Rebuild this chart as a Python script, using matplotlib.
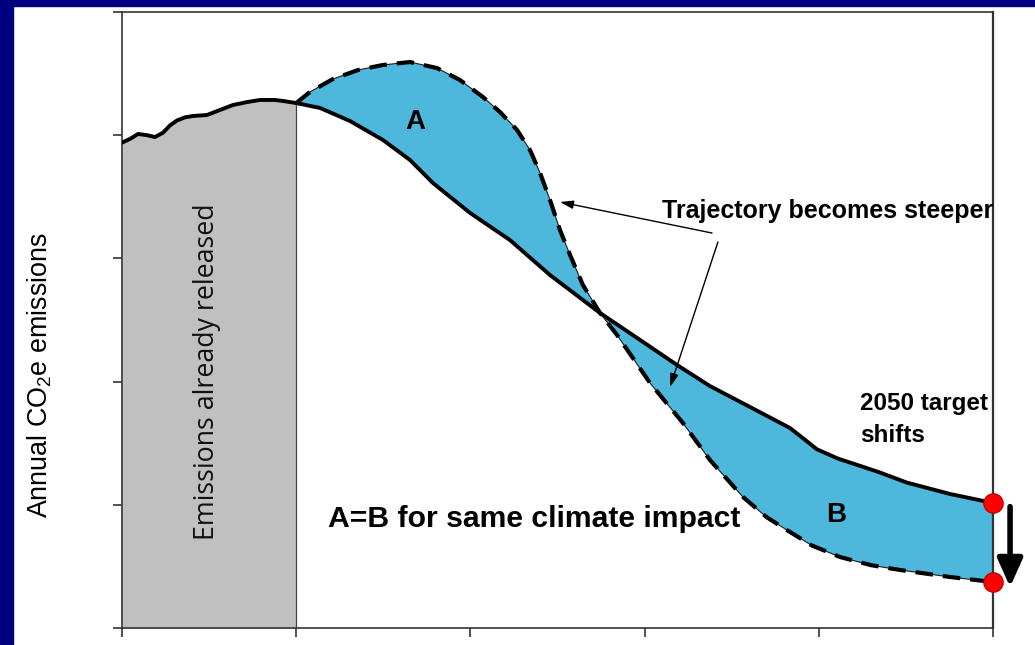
import matplotlib
matplotlib.use("Agg")
import matplotlib.pyplot as plt
from matplotlib.patches import Rectangle

plt.rcParams['font.family'] = ['Liberation Sans', 'DejaVu Sans']
plt.rcParams['mathtext.fontset'] = 'custom'
plt.rcParams['mathtext.rm'] = 'Liberation Sans'
plt.rcParams['mathtext.it'] = 'Liberation Sans:italic'

# --- data (time in arbitrary periods 0..5, emissions in arbitrary units) ---
hist_t = [0.000, 0.046, 0.092, 0.144, 0.189, 0.235, 0.276, 0.316, 0.362, 0.408,
          0.488, 0.563, 0.637, 0.718, 0.792, 0.878, 0.924, 1.000]
hist_e = [3.94, 3.97, 4.01, 4.00, 3.985, 4.02, 4.08, 4.12, 4.145, 4.156,
          4.164, 4.205, 4.245, 4.269, 4.286, 4.286, 4.278, 4.261]

plan_t = [1.000, 1.137, 1.309, 1.498, 1.653, 1.785, 1.998, 2.227, 2.457,
          2.744, 2.974, 3.186, 3.375, 3.605, 3.835, 3.990, 4.110, 4.250,
          4.351, 4.506, 4.753, 5.000]
plan_e = [4.261, 4.221, 4.115, 3.961, 3.799, 3.612, 3.369, 3.149, 2.865,
          2.557, 2.338, 2.135, 1.964, 1.794, 1.623, 1.450, 1.375, 1.310,
          1.262, 1.180, 1.088, 1.015]

delay_t = [1.000, 1.079, 1.211, 1.355, 1.498, 1.653, 1.808, 1.940, 2.072,
           2.170, 2.268, 2.342, 2.400, 2.457, 2.514, 2.572, 2.646, 2.744,
           2.842, 3.031, 3.220, 3.375, 3.565, 3.700, 3.817, 3.960, 4.122,
           4.300, 4.466, 4.753, 5.000]
delay_e = [4.261, 4.351, 4.456, 4.529, 4.570, 4.594, 4.545, 4.448, 4.310,
           4.188, 4.042, 3.880, 3.693, 3.474, 3.231, 3.028, 2.784, 2.557,
           2.378, 1.989, 1.664, 1.364, 1.063, 0.900, 0.795, 0.670, 0.576,
           0.510, 0.471, 0.414, 0.373]

target_t = 5.0
target_before = 1.015
target_after = 0.373

x_ticks = [0, 1, 2, 3, 4, 5]
y_ticks = [0, 1, 2, 3, 4, 5]

W, H = 1035, 645
fig = plt.figure(figsize=(W / 100, H / 100), dpi=100)
fig.patch.set_facecolor('white')

# navy slide frame
fig.patches.append(Rectangle((0, 0), 13 / W, 1, transform=fig.transFigure,
                             color='#000080', zorder=0))
fig.patches.append(Rectangle((0, 1 - 6 / H), 1, 6 / H, transform=fig.transFigure,
                             color='#000080', zorder=0))

ax = fig.add_axes([122 / W, 1 - 628 / H, (993 - 122) / W, (628 - 12) / H])
ax.set_xlim(0, 5)
ax.set_ylim(0, 5)

for side in ['left', 'bottom', 'top', 'right']:
    ax.spines[side].set_linewidth(1.2)
    ax.spines[side].set_color('#333333')
ax.spines['right'].set_linewidth(1.6)

ax.set_xticks(x_ticks)
ax.set_yticks(y_ticks)
ax.set_xticklabels([])
ax.set_yticklabels([])
ax.tick_params(axis='both', direction='out', length=6.5, width=1.2, color='#333333')

blue = '#4DB8DC'

# historical emissions
ax.fill_between(hist_t, 0, hist_e, color='#C0C0C0', lw=0, zorder=1)
ax.plot([hist_t[-1], hist_t[-1]], [0, hist_e[-1]], color='#444444', lw=0.9, zorder=2)
ax.plot(hist_t, hist_e, color='black', lw=2.8, solid_capstyle='round',
        solid_joinstyle='round', zorder=4)

# area between the two trajectories
poly_t = list(plan_t) + list(delay_t[::-1])
poly_e = list(plan_e) + list(delay_e[::-1])
ax.fill(poly_t, poly_e, facecolor=blue, edgecolor='#1a1a1a', lw=0.8, zorder=2)

ax.plot(plan_t, plan_e, color='black', lw=2.8, solid_capstyle='round',
        solid_joinstyle='round', zorder=4)
ax.plot(delay_t, delay_e, color='black', lw=3.0, linestyle=(0, (4.2, 2.4)), zorder=4)

# 2050 targets
ax.plot([target_t, target_t], [target_before, target_after], 'o', color='#FF0000',
        markeredgecolor='#B00000', markeredgewidth=0.8, markersize=14, zorder=6,
        clip_on=False)
ax.annotate('', xy=(5.098, target_after - 0.04), xytext=(5.098, target_before - 0.03),
            arrowprops=dict(arrowstyle='-|>,head_width=0.38,head_length=0.85',
                            mutation_scale=20, lw=4.0, color='black',
                            shrinkA=0, shrinkB=0),
            annotation_clip=False, zorder=6)

# labels
ax.text(1.682, 4.107, 'A', fontsize=20, fontweight='bold', ha='center', va='center', zorder=7)
ax.text(4.099, 0.917, 'B', fontsize=20, fontweight='bold', ha='center', va='center', zorder=7)
ax.text(1.183, 0.820, 'A=B for same climate impact', fontsize=21.7, fontweight='bold',
        ha='left', va='baseline', zorder=7)
ax.text(3.100, 3.328, 'Trajectory becomes steeper', fontsize=18, fontweight='bold',
        ha='left', va='baseline', zorder=7, clip_on=False)
ax.text(4.237, 1.769, '2050 target', fontsize=17.5, fontweight='bold',
        ha='left', va='baseline', zorder=7, clip_on=False)
ax.text(4.237, 1.510, 'shifts', fontsize=17.5, fontweight='bold',
        ha='left', va='baseline', zorder=7)

arrow_kw = dict(arrowstyle='-|>,head_width=0.25,head_length=0.8', mutation_scale=10,
                lw=1.0, color='black', shrinkA=0, shrinkB=0)
ax.annotate('', xy=(2.514, 3.458), xytext=(3.387, 3.206), arrowprops=arrow_kw, zorder=7)
ax.annotate('', xy=(3.146, 1.956), xytext=(3.421, 3.133), arrowprops=arrow_kw, zorder=7)

ax.text(0.488, 2.078, 'Emissions already released', fontsize=19.3, rotation=90,
        ha='center', va='center', family=['Open Sans', 'DejaVu Sans'], color='#111111',
        zorder=7)

fig.text(40 / W, 1 - 375 / H, r'Annual CO$_2$e emissions', fontsize=19.4, rotation=90,
         ha='center', va='center')

fig.savefig('out.png', dpi=100, facecolor='white')
